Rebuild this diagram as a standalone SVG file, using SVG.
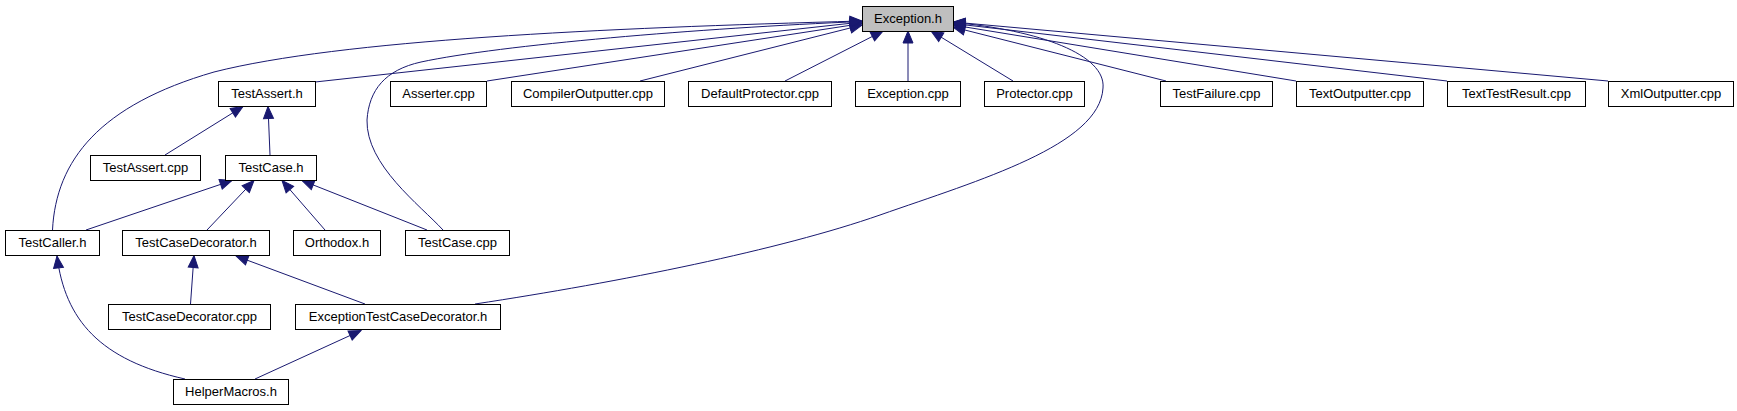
<svg xmlns="http://www.w3.org/2000/svg" width="1737" height="411" viewBox="0 0 1737 411">
<style>
.n rect{fill:#ffffff;stroke:#000000;stroke-width:1}
.n.hl rect{fill:#bfbfbf}
.n text{font-family:"Liberation Sans",Arial,sans-serif;font-size:13px;fill:#000000;text-anchor:middle}
.e path{fill:none;stroke:#191970;stroke-width:1;marker-end:url(#ah)}
</style>
<defs>
<marker id="ah" markerWidth="14" markerHeight="12" refX="12" refY="5" orient="auto" markerUnits="userSpaceOnUse" overflow="visible">
<path d="M0,0 L12,5 L0,10 z" fill="#191970" stroke="#191970" stroke-width="1"/>
</marker>
</defs>
<rect width="1737" height="411" fill="#ffffff"/>
<g id="edges" class="e">
<path d="M315,82 L862,22"/>
<path d="M487,81 L862,23.5"/>
<path d="M640,81 L862,25"/>
<path d="M785,81 L883,31"/>
<path d="M908,81 L908,31"/>
<path d="M1013,81 L931,31"/>
<path d="M1166,81 L953,27"/>
<path d="M1296,81 L953,25"/>
<path d="M1447,81 L953,23.5"/>
<path d="M1608,81 L953,22"/>
<path d="M52.5,230 C56,160 100,105 214,72 C340,40 600,28 862,21"/>
<path d="M443,230 C420,205 366,165 367,120 C369,90 385,70 421,62 C500,45 700,28 862,21.5"/>
<path d="M475,304 C620,282 780,250 880,215 C980,180 1100,145 1103,88 C1106,55 1040,30 953,22.5"/>
<path d="M165,155 L243,106.5"/>
<path d="M270,155 L268,106.5"/>
<path d="M86,230 L232,180.5"/>
<path d="M207,230 L254,180.5"/>
<path d="M325,230 L282,180.5"/>
<path d="M427,230 L302,180.5"/>
<path d="M190.5,304 L194,255.5"/>
<path d="M365,304 L236,256"/>
<path d="M185,379 C100,360 65,320 57,256"/>
<path d="M255,379 L361,330.5"/>
</g>
<g id="n_exception_h" class="n hl"><rect x="862.5" y="6.5" width="91" height="25"/><text x="908" y="23">Exception.h</text></g>
<g id="n_testassert_h" class="n"><rect x="218.5" y="81.5" width="97" height="25"/><text x="267" y="98">TestAssert.h</text></g>
<g id="n_asserter_cpp" class="n"><rect x="390.5" y="81.5" width="96" height="25"/><text x="438.5" y="98">Asserter.cpp</text></g>
<g id="n_compileroutputter_cpp" class="n"><rect x="511.5" y="81.5" width="153" height="25"/><text x="588" y="98">CompilerOutputter.cpp</text></g>
<g id="n_defaultprotector_cpp" class="n"><rect x="688.5" y="81.5" width="143" height="25"/><text x="760" y="98">DefaultProtector.cpp</text></g>
<g id="n_exception_cpp" class="n"><rect x="855.5" y="81.5" width="105" height="25"/><text x="908" y="98">Exception.cpp</text></g>
<g id="n_protector_cpp" class="n"><rect x="984.5" y="81.5" width="100" height="25"/><text x="1034.5" y="98">Protector.cpp</text></g>
<g id="n_testfailure_cpp" class="n"><rect x="1160.5" y="81.5" width="112" height="25"/><text x="1216.5" y="98">TestFailure.cpp</text></g>
<g id="n_textoutputter_cpp" class="n"><rect x="1296.5" y="81.5" width="127" height="25"/><text x="1360" y="98">TextOutputter.cpp</text></g>
<g id="n_texttestresult_cpp" class="n"><rect x="1447.5" y="81.5" width="138" height="25"/><text x="1516.5" y="98">TextTestResult.cpp</text></g>
<g id="n_xmloutputter_cpp" class="n"><rect x="1608.5" y="81.5" width="125" height="25"/><text x="1671" y="98">XmlOutputter.cpp</text></g>
<g id="n_testassert_cpp" class="n"><rect x="90.5" y="155.5" width="110" height="25"/><text x="145.5" y="172">TestAssert.cpp</text></g>
<g id="n_testcase_h" class="n"><rect x="225.5" y="155.5" width="91" height="25"/><text x="271" y="172">TestCase.h</text></g>
<g id="n_testcaller_h" class="n"><rect x="5.5" y="230.5" width="94" height="25"/><text x="52.5" y="247">TestCaller.h</text></g>
<g id="n_testcasedecorator_h" class="n"><rect x="122.5" y="230.5" width="147" height="25"/><text x="196" y="247">TestCaseDecorator.h</text></g>
<g id="n_orthodox_h" class="n"><rect x="293.5" y="230.5" width="87" height="25"/><text x="337" y="247">Orthodox.h</text></g>
<g id="n_testcase_cpp" class="n"><rect x="405.5" y="230.5" width="104" height="25"/><text x="457.5" y="247">TestCase.cpp</text></g>
<g id="n_testcasedecorator_cpp" class="n"><rect x="108.5" y="304.5" width="162" height="25"/><text x="189.5" y="321">TestCaseDecorator.cpp</text></g>
<g id="n_exceptiontestcasedecorator_h" class="n"><rect x="295.5" y="304.5" width="205" height="25"/><text x="398" y="321">ExceptionTestCaseDecorator.h</text></g>
<g id="n_helpermacros_h" class="n"><rect x="173.5" y="379.5" width="115" height="25"/><text x="231" y="396">HelperMacros.h</text></g>
</svg>
